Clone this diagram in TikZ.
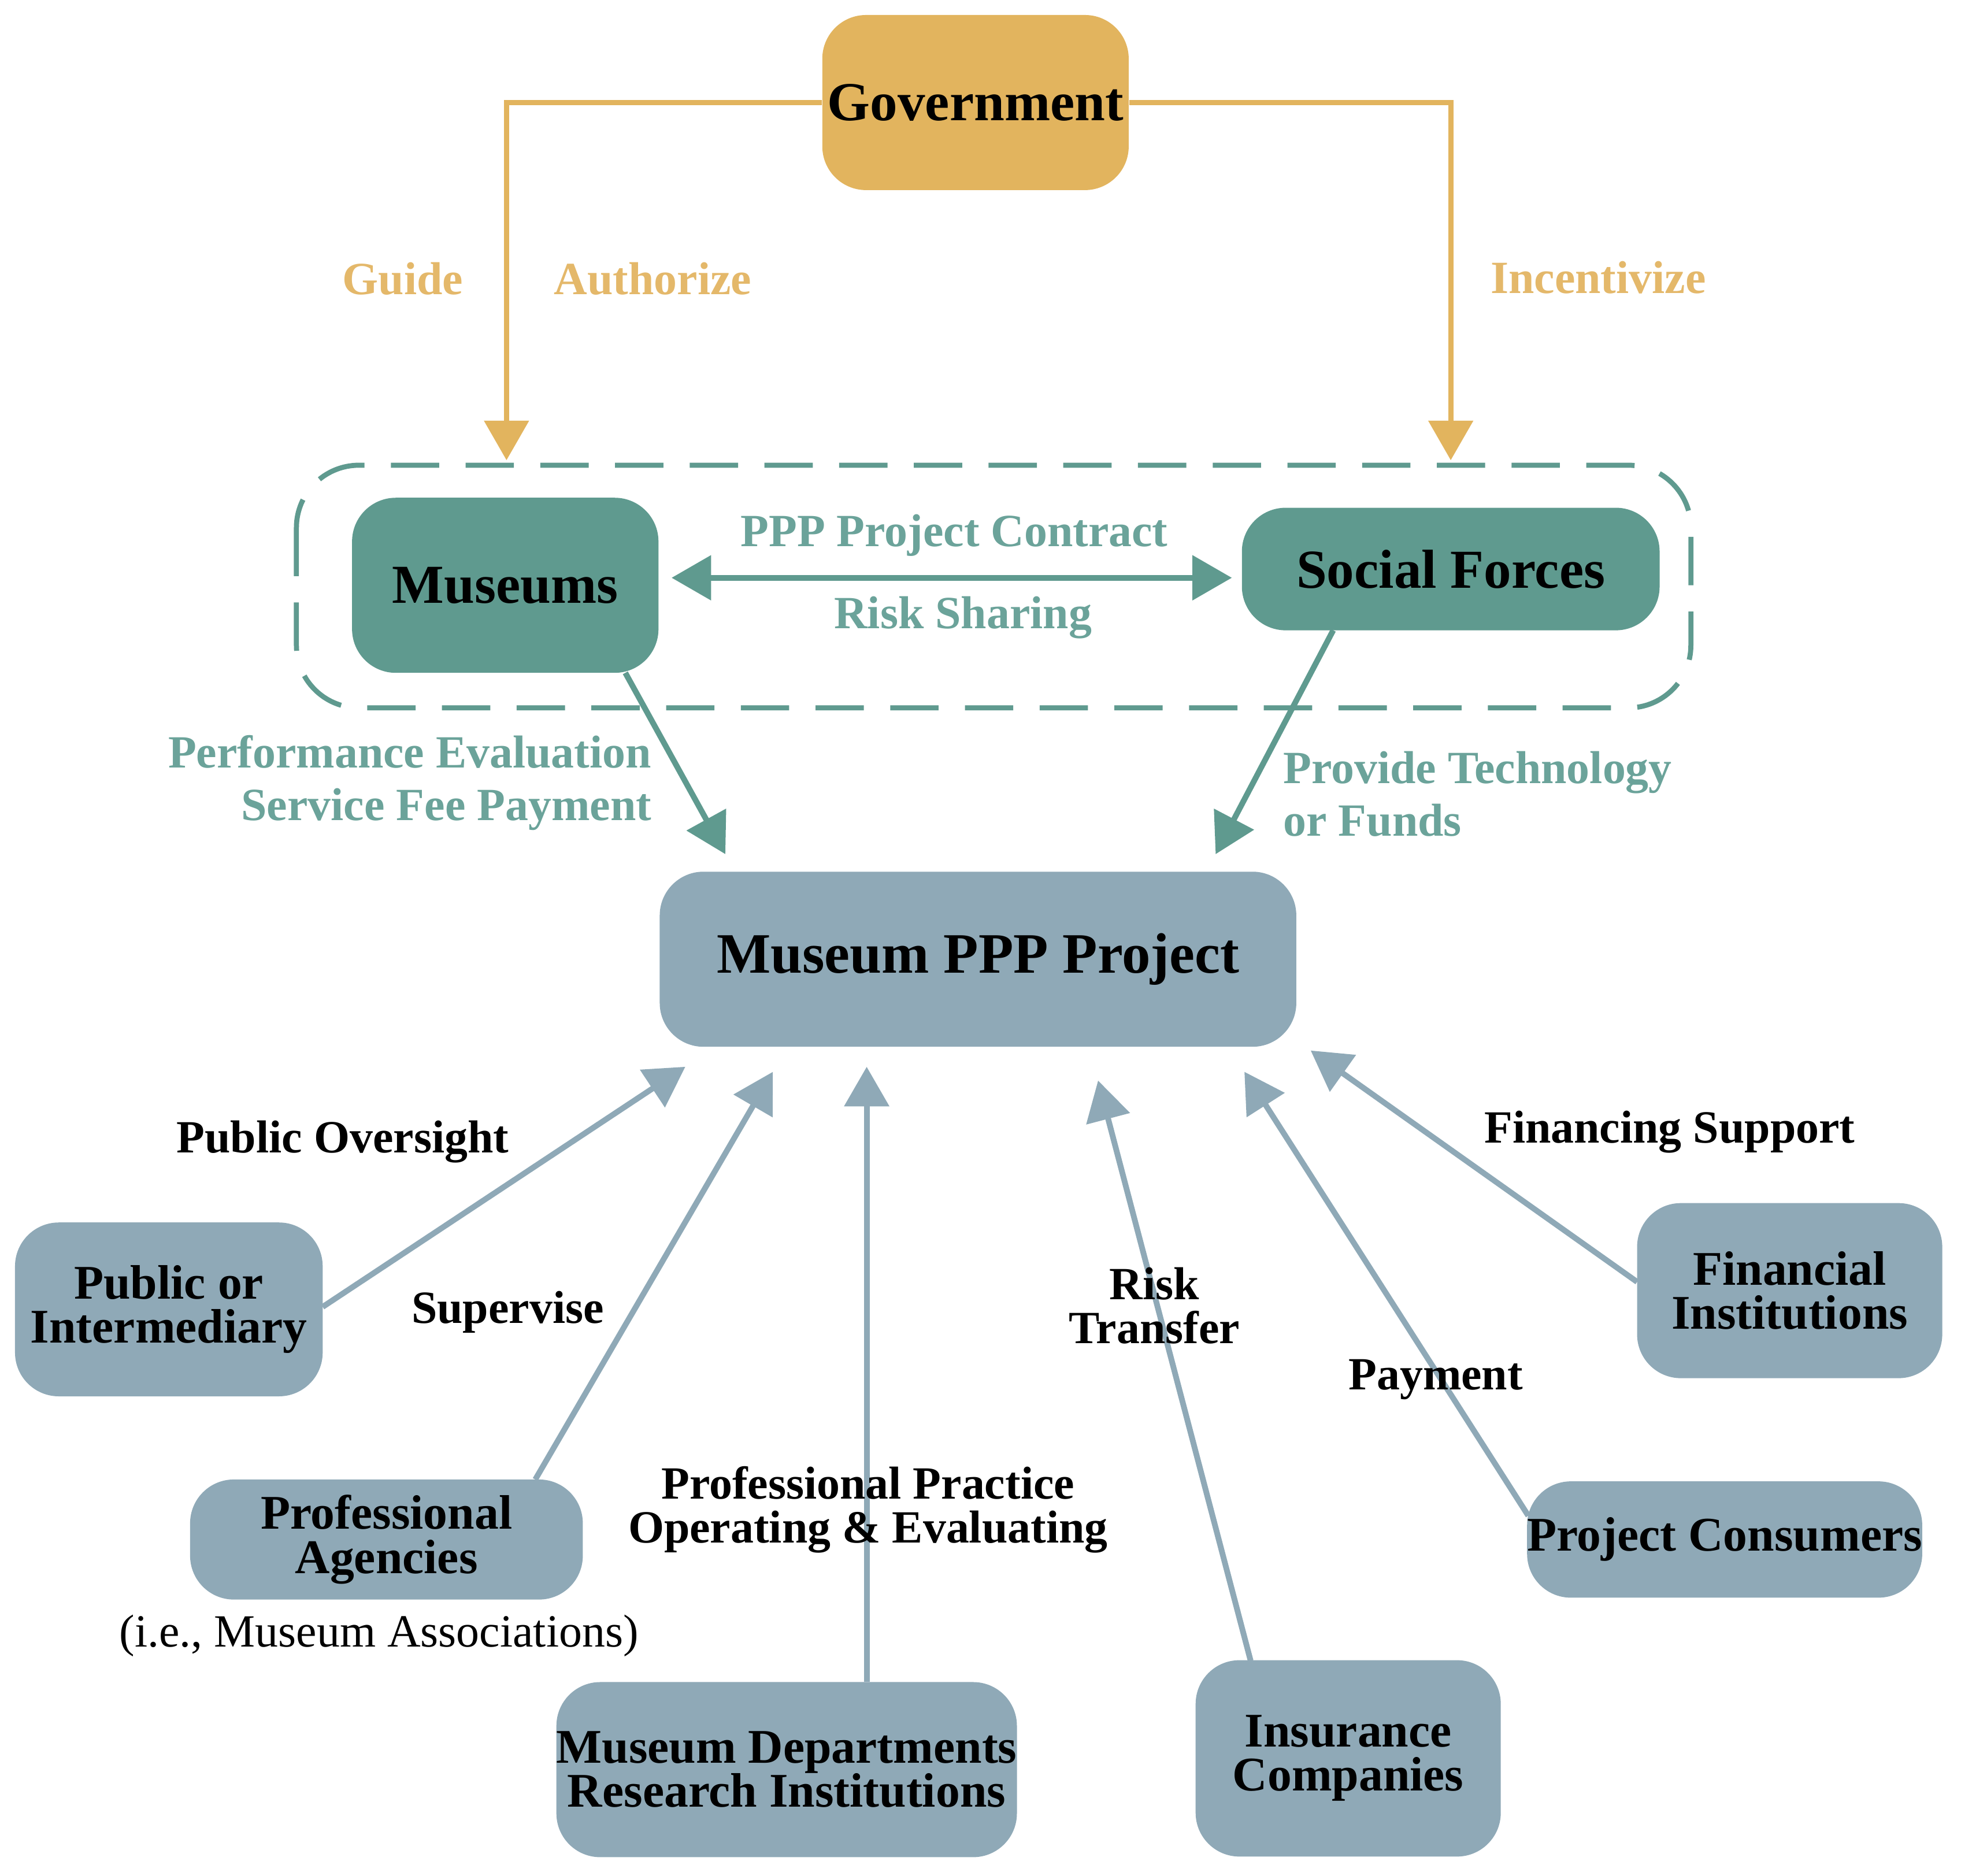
\documentclass[tikz,border=0pt]{standalone}
\usepackage{fontspec}
\setmainfont{Liberation Serif}
\usetikzlibrary{arrows.meta}
\definecolor{gold}{HTML}{E2B45E}
\definecolor{goldtxt}{HTML}{E4B86A}
\definecolor{teal}{HTML}{5F9A8F}
\definecolor{tealtxt}{HTML}{6BA39A}
\definecolor{bgr}{HTML}{8FA9B7}
\begin{document}
\begin{tikzpicture}[x=0.02cm,y=-0.02cm,
 box/.style={rounded corners=0.7cm,inner sep=0pt,font=\fontsize{22}{22}\selectfont\bfseries,align=center},
 gbox/.style={box,fill=gold},
 tbox/.style={box,fill=teal},
 bbox/.style={box,fill=bgr},
 garr/.style={gold,line width=2.3pt,-{Triangle[width=20pt,length=18pt]}},
 tarr/.style={teal,line width=2.6pt,-{Triangle[width=20pt,length=18pt]}},
 barr/.style={bgr,line width=2.6pt,-{Triangle[width=20pt,length=18pt]}},
 gl/.style={goldtxt,font=\fontsize{21}{21}\selectfont\bfseries},
 tl/.style={tealtxt,font=\fontsize{21}{24}\selectfont\bfseries},
 bl/.style={font=\fontsize{21}{24}\selectfont\bfseries,align=center}]
\useasboundingbox (0,0) rectangle (1568,1500);
\node[gbox,minimum width=245*0.02cm,minimum height=140*0.02cm,font=\fontsize{25}{25}\selectfont\bfseries] (gov) at (780,82) {Government};
\draw[teal,line width=2.3pt,dash pattern=on 22pt off 12pt,rounded corners=1cm] (237,372) rectangle (1352,566);
\node[tbox,minimum width=245*0.02cm,minimum height=140*0.02cm,font=\fontsize{25}{25}\selectfont\bfseries] (mus) at (404,468) {Museums};
\node[tbox,minimum width=334*0.02cm,minimum height=98*0.02cm,font=\fontsize{25}{25}\selectfont\bfseries] (soc) at (1160,455) {Social Forces};
\node[bbox,minimum width=509*0.02cm,minimum height=140*0.02cm,font=\fontsize{26}{26}\selectfont\bfseries] (ppp) at (782,767) {Museum PPP Project};
\node[bbox,minimum width=246*0.02cm,minimum height=139*0.02cm] (pub) at (135,1047) {Public or\\[-2pt]Intermediary};
\node[bbox,minimum width=314*0.02cm,minimum height=96*0.02cm] (pro) at (309,1231) {Professional\\[-2pt]Agencies};
\node[bbox,minimum width=366*0.02cm,minimum height=140*0.02cm] (dep) at (629,1415) {Museum Departments\\[-2pt]Research Institutions};
\node[bbox,minimum width=244*0.02cm,minimum height=157*0.02cm] (ins) at (1078,1406) {Insurance\\[-2pt]Companies};
\node[bbox,minimum width=310*0.02cm,minimum height=93*0.02cm] (con) at (1379,1231) {Project Consumers};
\node[bbox,minimum width=244*0.02cm,minimum height=140*0.02cm] (fin) at (1431,1032) {Financial\\[-2pt]Institutions};
\coordinate (gm) at (405,368); \coordinate (gs) at (1160,368);
\draw[garr] (gov.west) -| (gm);
\draw[garr] (gov.east) -| (gs);
\node[gl] (l1) at (322,223) {Guide};
\node[gl] (l2) at (522,223) {Authorize};
\node[gl] (l3) at (1278,222) {Incentivize};
\coordinate (ma) at (537,462); \coordinate (sa) at (985,462);
\draw[teal,line width=2.6pt,{Triangle[width=20pt,length=18pt]}-{Triangle[width=20pt,length=18pt]}] (ma) -- (sa);
\node[tl] (l4) at (763,428) {PPP Project Contract};
\node[tl] (l5) at (770,494) {Risk Sharing};
\coordinate (m1) at (500,538); \coordinate (m2) at (580,683);
\coordinate (s1) at (1066,504); \coordinate (s2) at (972,683);
\draw[tarr] (m1) -- (m2);
\draw[tarr] (s1) -- (s2);
\node[tl,align=right,anchor=east] (l6) at (527,626) {Performance Evaluation\\Service Fee Payment};
\node[tl,align=left,anchor=west] (l7) at (1020,635) {Provide Technology\\or Funds};
\coordinate (a1) at (258,1045); \coordinate (b1) at (548,853);
\coordinate (a2) at (428,1183); \coordinate (b2) at (618,857);
\coordinate (a3) at (693,1345); \coordinate (b3) at (693,853);
\coordinate (a4) at (1000,1328); \coordinate (b4) at (878,864);
\coordinate (a5) at (1222,1212); \coordinate (b5) at (995,857);
\coordinate (a6) at (1309,1025); \coordinate (b6) at (1048,840);
\draw[barr] (a1) -- (b1);
\draw[barr] (a2) -- (b2);
\draw[barr] (a3) -- (b3);
\draw[barr] (a4) -- (b4);
\draw[barr] (a5) -- (b5);
\draw[barr] (a6) -- (b6);
\node[bl] (t1) at (274,913) {Public Oversight};
\node[bl] (t2) at (406,1049) {Supervise};
\node[bl] (t3) at (694,1207) {Professional Practice\\[-4pt]Operating \& Evaluating};
\node[bl] (t4) at (923,1044) {Risk\\[-4pt]Transfer};
\node[bl] (t5) at (1148,1103) {Payment};
\node[bl] (t6) at (1335,905) {Financing Support};
\node[font=\fontsize{21}{21}\selectfont] (t7) at (303,1308) {(i.e., Museum Associations)};
\end{tikzpicture}
\end{document}
